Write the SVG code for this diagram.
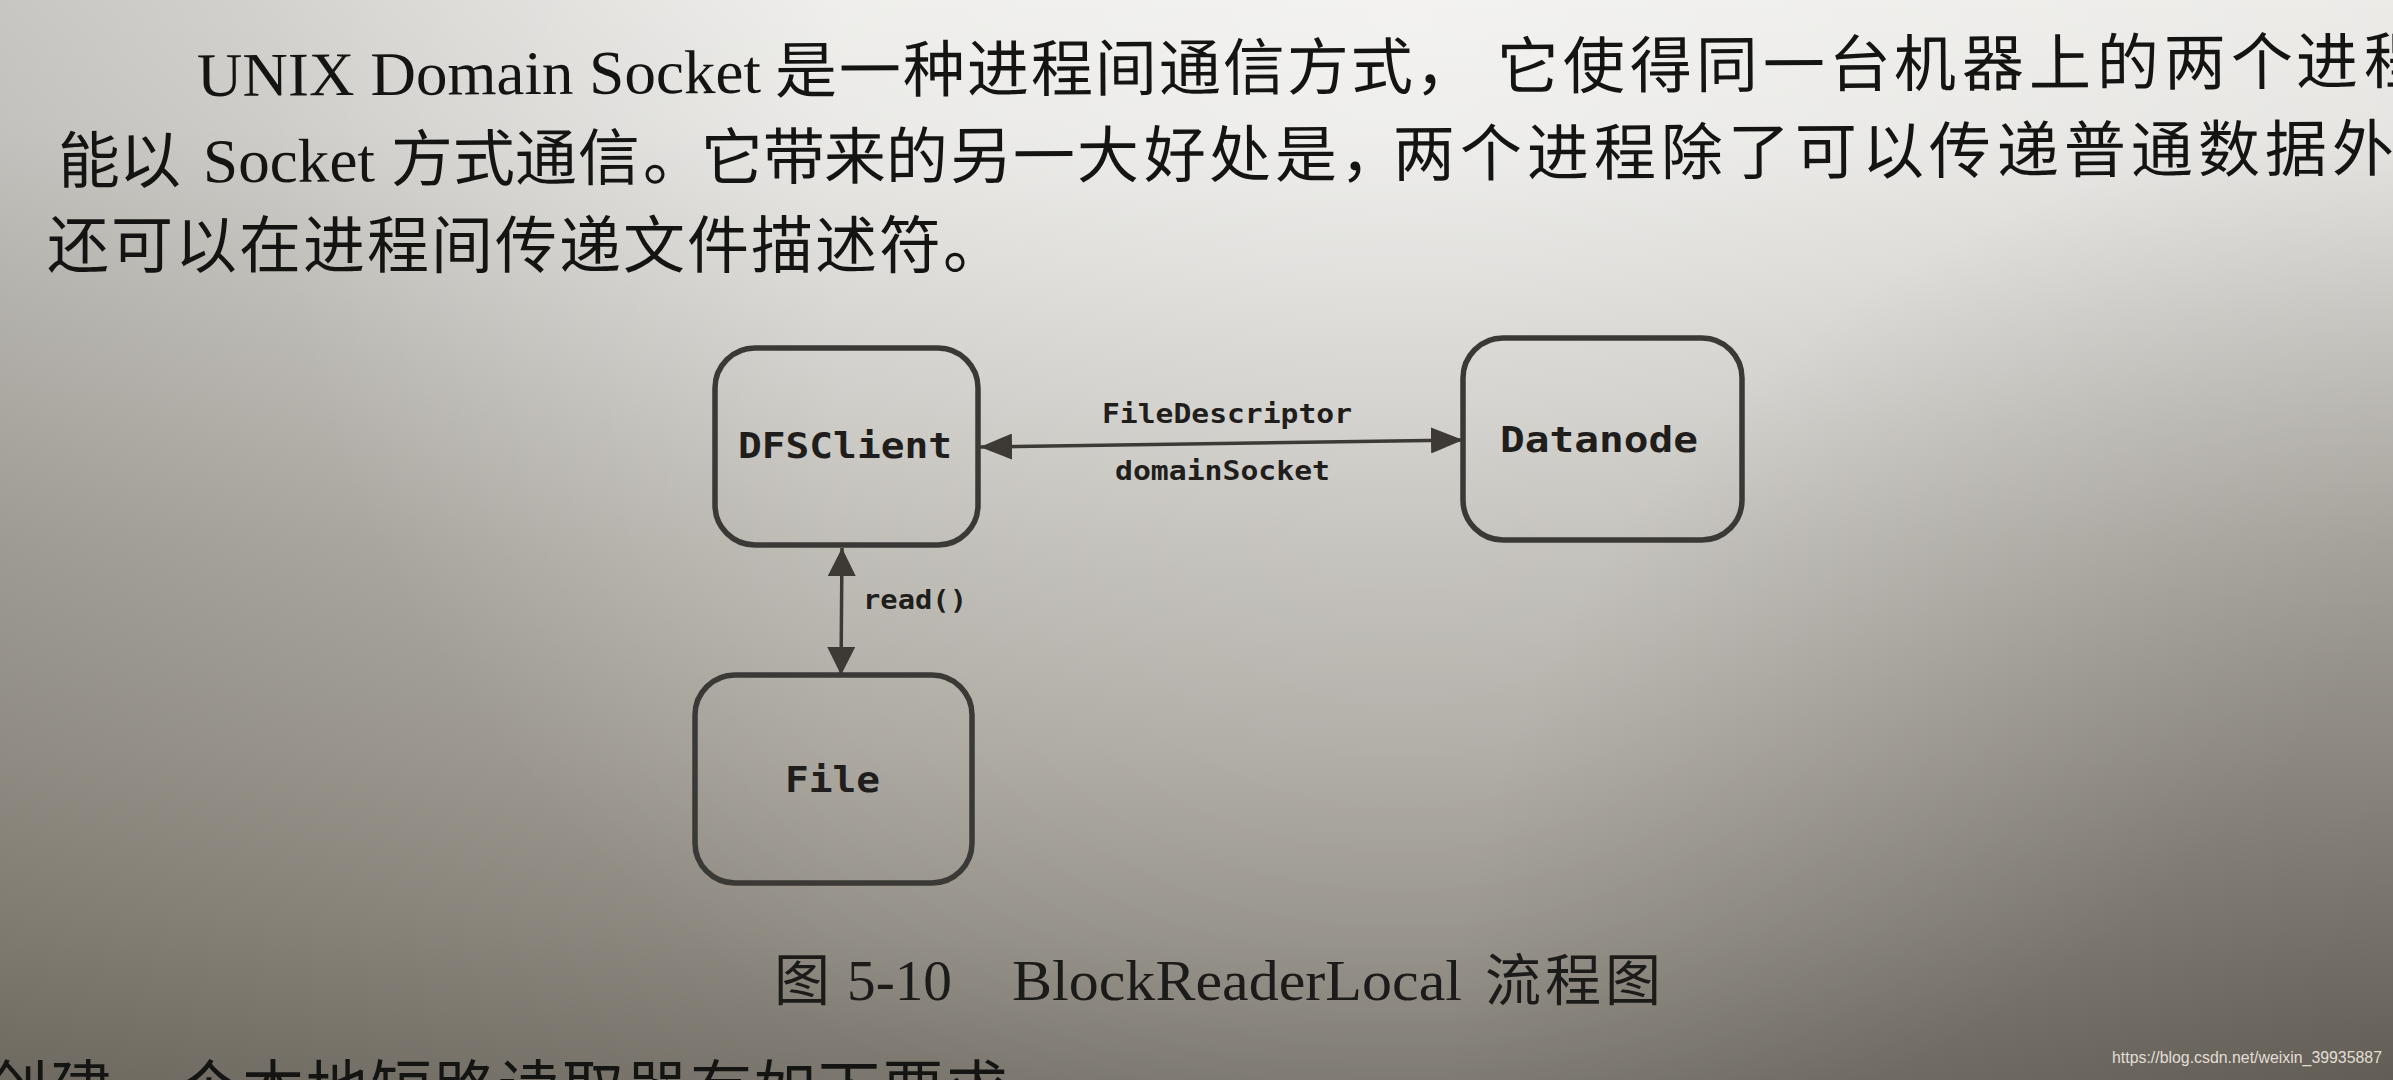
<svg xmlns="http://www.w3.org/2000/svg" width="2393" height="1080" viewBox="0 0 2393 1080">
<defs>
  <linearGradient id="bgV" x1="0" y1="0" x2="0" y2="1">
    <stop offset="0" stop-color="#ebeae7"/>
    <stop offset="0.12" stop-color="#e5e4e1"/>
    <stop offset="0.3" stop-color="#cfcdc8"/>
    <stop offset="0.5" stop-color="#b7b4ad"/>
    <stop offset="0.7" stop-color="#a4a098"/>
    <stop offset="0.85" stop-color="#918d84"/>
    <stop offset="1" stop-color="#7a766d"/>
  </linearGradient>
  <linearGradient id="bgL" x1="0" y1="0" x2="1" y2="0">
    <stop offset="0" stop-color="#3c372d" stop-opacity="0.2"/>
    <stop offset="0.35" stop-color="#3c372d" stop-opacity="0"/>
  </linearGradient>
  <radialGradient id="bgHi" cx="1400" cy="40" r="1150" gradientUnits="userSpaceOnUse">
    <stop offset="0" stop-color="#ffffff" stop-opacity="0.4"/>
    <stop offset="1" stop-color="#ffffff" stop-opacity="0"/>
  </radialGradient>
  <radialGradient id="bgDk" cx="2393" cy="1080" r="950" gradientUnits="userSpaceOnUse">
    <stop offset="0" stop-color="#2a251c" stop-opacity="0.3"/>
    <stop offset="1" stop-color="#2a251c" stop-opacity="0"/>
  </radialGradient>
  <marker id="ah" viewBox="0 0 32 26" refX="32" refY="13" markerWidth="32" markerHeight="26" markerUnits="userSpaceOnUse" orient="auto-start-reverse">
    <path d="M0,0 L32,13 L0,26 z" fill="#3d3a36"/>
  </marker>
  <marker id="ahv" viewBox="0 0 28 28" refX="28" refY="14" markerWidth="28" markerHeight="28" markerUnits="userSpaceOnUse" orient="auto-start-reverse">
    <path d="M0,0 L28,14 L0,28 z" fill="#3d3a36"/>
  </marker>
</defs>
<style>
  .body { font-family: "Liberation Serif", "Noto Sans CJK SC", serif; font-size: 62px; fill: #141413; }
  .cjk { font-family: "Noto Sans CJK SC", sans-serif; }
  .box { fill: none; stroke: #3b3936; stroke-width: 5.5; }
  .lbl { font-family: "DejaVu Sans Mono", "Liberation Mono", monospace; font-weight: bold; fill: #1f1e1c; }
  .edge { stroke: #3d3a36; stroke-width: 3.5; fill: none; }
  .cap { font-family: "Liberation Serif", "Noto Sans CJK SC", serif; font-size: 57px; fill: #1c1b19; }
  .wm { font-family: "Liberation Sans", sans-serif; font-size: 16px; fill: #e2ded6; }
</style>

<rect x="0" y="0" width="2393" height="1080" fill="url(#bgV)"/>
<rect x="0" y="0" width="2393" height="1080" fill="url(#bgL)"/>
<rect x="0" y="0" width="2393" height="1080" fill="url(#bgHi)"/>
<rect x="0" y="0" width="2393" height="1080" fill="url(#bgDk)"/>

<g id="paragraph">
  <text class="body" y="96" transform="rotate(-0.33 197 96)"><tspan x="197" textLength="564" lengthAdjust="spacingAndGlyphs">UNIX Domain Socket</tspan><tspan class="cjk" x="775 839 903 967 1031 1095 1159 1223 1287 1351 1415 1497 1563 1630 1696 1763 1829 1894 1962 2029 2097 2164 2231 2296 2364">是一种进程间通信方式，它使得同一台机器上的两个进程</tspan></text>
  <text class="body" y="183" transform="rotate(-0.3 58 183)"><tspan class="cjk" x="58 119">能以</tspan><tspan x="203" textLength="172" lengthAdjust="spacingAndGlyphs">Socket</tspan><tspan class="cjk" x="391 453 515 578 643 701 763 824 886 950 1013 1077 1144 1209 1275 1340 1393 1460 1527 1594 1661 1728 1795 1862 1929 1997 2064 2131 2198 2265 2332">方式通信。它带来的另一大好处是，两个进程除了可以传递普通数据外</tspan></text>
  <text class="body cjk" y="268" x="47 111 175 239 303 367 431 495 559 623 687 751 815 879 943">还可以在进程间传递文件描述符。</text>
</g>

<g id="connectors">
  <line class="edge" x1="980" y1="447" x2="1463" y2="440" marker-start="url(#ah)" marker-end="url(#ah)"/>
  <line class="edge" x1="842" y1="548" x2="841" y2="675" marker-start="url(#ahv)" marker-end="url(#ahv)"/>
  <text class="lbl" x="1102" y="423" font-size="27" textLength="250" lengthAdjust="spacingAndGlyphs">FileDescriptor</text>
  <text class="lbl" x="1115" y="480" font-size="27" textLength="215" lengthAdjust="spacingAndGlyphs">domainSocket</text>
  <text class="lbl" x="863" y="609" font-size="27" textLength="104" lengthAdjust="spacingAndGlyphs">read()</text>
</g>

<g id="node-dfsclient">
  <rect class="box" x="715" y="348" width="263" height="197" rx="40" ry="40"/>
  <text class="lbl" x="738" y="458" font-size="36" textLength="214" lengthAdjust="spacingAndGlyphs">DFSClient</text>
</g>
<g id="node-datanode">
  <rect class="box" x="1463" y="338" width="279" height="202" rx="40" ry="40"/>
  <text class="lbl" x="1500" y="452" font-size="36" textLength="198" lengthAdjust="spacingAndGlyphs">Datanode</text>
</g>
<g id="node-file">
  <rect class="box" x="695" y="675" width="277" height="208" rx="40" ry="40"/>
  <text class="lbl" x="785" y="792" font-size="36" textLength="95" lengthAdjust="spacingAndGlyphs">File</text>
</g>

<g id="caption">
  <text class="cap" y="1000"><tspan class="cjk" x="774" font-size="56">图</tspan><tspan x="847" textLength="105" lengthAdjust="spacingAndGlyphs">5-10</tspan><tspan x="1012" textLength="450" lengthAdjust="spacingAndGlyphs">BlockReaderLocal</tspan><tspan class="cjk" font-size="56" x="1485 1545 1605">流程图</tspan></text>
</g>

<g id="next-line">
  <text class="body cjk" y="1112" x="-14 50 114 178 242 306 370 434 498 562 626 690 754 818 882 946">创建一个本地短路读取器有如下要求</text>
</g>

<text class="wm" x="2112" y="1063" textLength="270" lengthAdjust="spacingAndGlyphs">https://blog.csdn.net/weixin_39935887</text>
</svg>
